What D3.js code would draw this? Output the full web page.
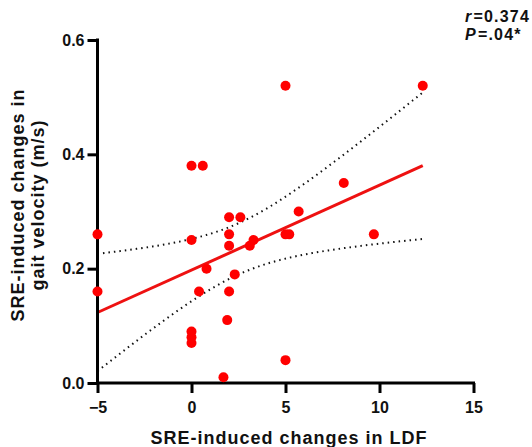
<!DOCTYPE html>
<html>
<meta charset="utf-8">
<style>
    body { margin: 0; background: #fff; }
    text { font-family: "Liberation Sans", Arial, sans-serif; font-weight: bold; fill: #111; }
    .axis path, .axis line { stroke: #000; stroke-width: 3px; }
    .axis text { font-size: 16px; }
    .title { font-size: 18px; letter-spacing: 1px; }
    .dot { fill: #ff0000; }
    .fit { fill: none; stroke: #ee1111; stroke-width: 3px; }
    .band { fill: none; stroke: #111; stroke-width: 2px; stroke-dasharray: 1.5,4; }
</style>

<body>
    <script src="https://d3js.org/d3.v7.min.js"></script>
    <script>

        var width = 532,
            height = 447;

        // LDF change (x) and gait velocity change (y)
        var ldf = [-5, -5, 0, 0.6, 0, 0, 0, 0, 0.4, 0.8, 1.7, 1.9, 2, 2, 2, 2, 2.3, 2.6, 3.1, 3.3, 5, 5, 5, 5.2, 5.7, 8.1, 9.7, 12.3];
        var velocity = [0.26, 0.16, 0.38, 0.38, 0.25, 0.09, 0.08, 0.07, 0.16, 0.20, 0.01, 0.11, 0.16, 0.24, 0.26, 0.29, 0.19, 0.29, 0.24, 0.25, 0.52, 0.04, 0.26, 0.26, 0.30, 0.35, 0.26, 0.52];
        var xTicks = [-5, 0, 5, 10, 15];
        var yTicks = [0.0, 0.2, 0.4, 0.6];
        var stats = ["r=0.374", "P=.04*"];
        var tCrit = 2.056; // t(0.975, df = 26)

        var x = d3.scaleLinear().domain([-5, 15]).range([97.5, 473.5]);
        var y = d3.scaleLinear().domain([0, 0.6]).range([383, 40]);

        var svg = d3.select("body").append("svg")
            .attr("width", width)
            .attr("height", height);

        // least squares fit + 95% confidence band of the mean
        var n = ldf.length,
            mx = d3.mean(ldf),
            my = d3.mean(velocity);
        var sxx = d3.sum(ldf, function (v) { return (v - mx) * (v - mx); });
        var sxy = d3.sum(ldf, function (v, i) { return (v - mx) * (velocity[i] - my); });
        var slope = sxy / sxx,
            icept = my - slope * mx;
        var sse = d3.sum(ldf, function (v, i) { var e = velocity[i] - (icept + slope * v); return e * e; });
        var se = Math.sqrt(sse / (n - 2));

        var xmin = d3.min(ldf), xmax = d3.max(ldf);
        var grid = d3.range(0, 101).map(function (k) { return xmin + (xmax - xmin) * k / 100; });
        var fitAt = function (v) { return icept + slope * v; };
        var halfAt = function (v) { return tCrit * se * Math.sqrt(1 / n + (v - mx) * (v - mx) / sxx); };

        var line = d3.line()
            .x(function (d) { return x(d[0]); })
            .y(function (d) { return y(d[1]); });

        svg.append("path")
            .attr("class", "band")
            .attr("d", line(grid.map(function (v) { return [v, fitAt(v) + halfAt(v)]; })));
        svg.append("path")
            .attr("class", "band")
            .attr("d", line(grid.map(function (v) { return [v, fitAt(v) - halfAt(v)]; })));

        svg.append("path")
            .attr("class", "fit")
            .attr("d", line([[xmin, fitAt(xmin)], [xmax, fitAt(xmax)]]));

        svg.append("g")
            .attr("class", "axis")
            .attr("transform", "translate(0,383)")
            .call(d3.axisBottom(x).tickValues(xTicks).tickSize(10).tickPadding(9).tickFormat(d3.format("d")))
            .call(function (g) { g.select(".domain").attr("d", "M" + x(-5) + ",0H" + (x(15) + 1.5)); });

        svg.append("g")
            .attr("class", "axis")
            .attr("transform", "translate(97.5,0)")
            .call(d3.axisLeft(y).tickValues(yTicks).tickSize(10).tickPadding(3).tickFormat(d3.format(".1f")))
            .call(function (g) { g.select(".domain").attr("d", "M0," + (y(0.6) - 1.5) + "V" + (y(0) + 1.5)); });

        svg.selectAll(".axis .domain").attr("fill", "none");

        svg.selectAll(".dot")
            .data(ldf)
            .enter().append("circle")
            .attr("class", "dot")
            .attr("r", 5)
            .attr("cx", function (d) { return x(d); })
            .attr("cy", function (d, i) { return y(velocity[i]); });

        // axis titles
        svg.append("text")
            .attr("class", "title")
            .attr("x", 289)
            .attr("y", 444)
            .attr("text-anchor", "middle")
            .text("SRE-induced changes in LDF");

        var yt = svg.append("text")
            .attr("class", "title")
            .attr("transform", "translate(24,205) rotate(-90)")
            .attr("text-anchor", "middle");
        yt.append("tspan").attr("x", 0).attr("y", 0).text("SRE-induced changes in");
        yt.append("tspan").attr("x", 0).attr("y", 20).text("gait velocity (m/s)");

        // stats annotation
        svg.selectAll(".stat")
            .data(stats)
            .enter().append("text")
            .attr("class", "stat")
            .attr("x", 465)
            .attr("y", function (d, i) { return 22 + i * 18; })
            .style("font-size", "16px")
            .style("letter-spacing", "1.2px")
            .each(function (d) {
                var t = d3.select(this);
                t.append("tspan").style("font-style", "italic").text(d.charAt(0));
                t.append("tspan").attr("dx", 1).text(d.slice(1));
            });

    </script>

</body>
</html>
